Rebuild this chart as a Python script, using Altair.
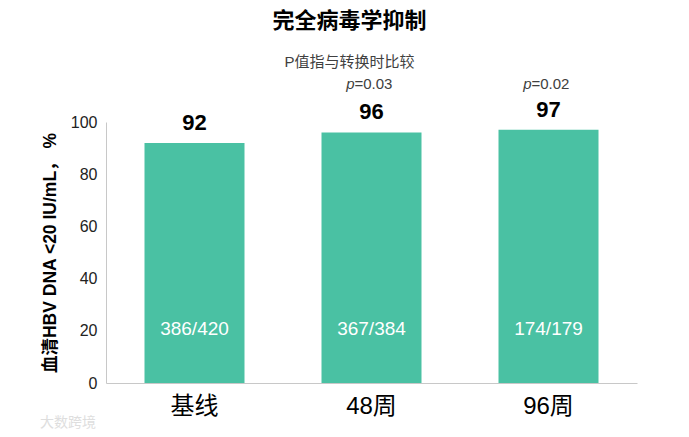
import altair as alt
import pandas as pd

categories = ["基线", "48周", "96周"]
values = [92, 96, 97]
fractions = ["386/420", "367/384", "174/179"]
p_values = ["", "=0.03", "=0.02"]
p_marks = ["", "p", "p"]

FONT = "Liberation Sans, Noto Sans CJK SC, sans-serif"
BAR_COLOR = "#4AC1A3"

df = pd.DataFrame({
    "cat": categories,
    "val": values,
    "frac": fractions,
    "pv": p_values,
    "pm": p_marks,
})

x_enc = alt.X(
    "cat:N", sort=categories, title=None,
    scale=alt.Scale(paddingInner=0.435, paddingOuter=0.2175),
    axis=alt.Axis(labelAngle=0, labelFontSize=24, labelColor="#000000", labelFont=FONT,
                  labelPadding=11, ticks=False, domainColor="#c8c8c8", domainWidth=1),
)
y_enc = alt.Y(
    "val:Q", scale=alt.Scale(domain=[0, 100], nice=False),
    title="血清HBV DNA <20 IU/mL，  %",
    axis=alt.Axis(values=[0, 20, 40, 60, 80, 100], grid=False, ticks=False,
                  labelFontSize=16, labelColor="#222222", labelFont=FONT, labelPadding=9,
                  domainColor="#c8c8c8", domainWidth=1,
                  titleFontSize=17.5, titleFontWeight="bold", titleColor="#000000",
                  titleFont=FONT, titlePadding=11),
)

base = alt.Chart(df)

bars = base.mark_bar(color=BAR_COLOR).encode(x=x_enc, y=y_enc)

top_labels = base.mark_text(fontSize=22, fontWeight="bold", font=FONT, color="#000000",
                            baseline="alphabetic", dy=-13).encode(
    x=alt.X("cat:N", sort=categories), y="val:Q", text="val:Q")

inner_labels = base.mark_text(fontSize=19, font=FONT, color="#ffffff",
                              baseline="alphabetic").encode(
    x=alt.X("cat:N", sort=categories), y=alt.datum(18.4), text="frac:N")

p_italic = base.mark_text(fontSize=15, font=FONT, fontStyle="italic", color="#404040",
                          align="right", baseline="alphabetic", dx=-17, dy=-33).encode(
    x=alt.X("cat:N", sort=categories), y=alt.datum(100), text="pm:N")

p_rest = base.mark_text(fontSize=15, font=FONT, color="#404040",
                        align="left", baseline="alphabetic", dx=-17, dy=-33).encode(
    x=alt.X("cat:N", sort=categories), y=alt.datum(100), text="pv:N")

watermark = alt.Chart(pd.DataFrame({"t": ["大数跨境"]})).mark_text(
    fontSize=14, font=FONT, color="#dedede", align="left", baseline="middle").encode(
    x=alt.value(-66), y=alt.value(301), text="t:N")

chart = alt.layer(bars, top_labels, inner_labels, p_italic, p_rest, watermark).properties(
    width=531, height=261,
    autosize=alt.AutoSizeParams(type="none"),
    padding={"left": 98, "top": 114, "right": 44, "bottom": 46},
    background="#ffffff",
    title=alt.TitleParams(
        text="完全病毒学抑制", subtitle="P值指与转换时比较",
        font=FONT, fontSize=22, fontWeight="bold", color="#000000",
        subtitleFont=FONT, subtitleFontSize=15, subtitleColor="#404040",
        subtitlePadding=22, anchor="middle", frame="group", offset=6, dx=-22,
    ),
).configure_view(stroke=None)

chart.save("out.html", embed_options={"renderer": "svg", "actions": False})
